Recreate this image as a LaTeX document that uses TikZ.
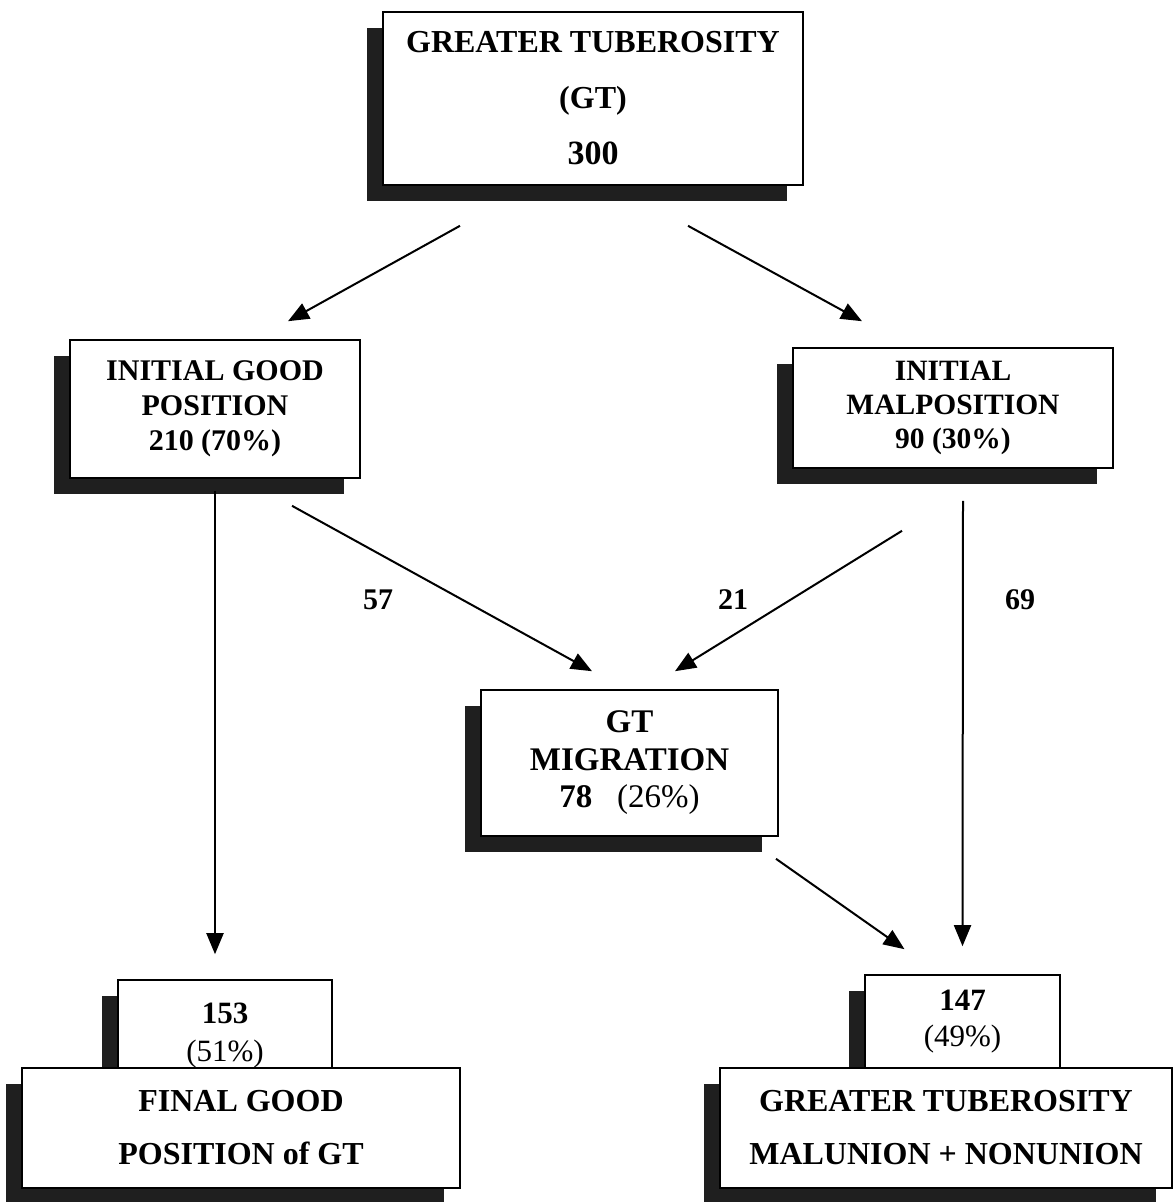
\documentclass[tikz,border=0pt]{standalone}
\usepackage{fontspec}
\setmainfont{Liberation Serif}
\usepackage{tikz}
\usetikzlibrary{shapes.geometric, arrows, arrows.meta, shadows}
\tikzstyle{arrow} = [line width=2pt,->,>={Triangle[length=21pt,width=17pt]}]
\tikzstyle{box} = [draw, line width=1.6pt, fill=white, align=center, inner sep=0pt,
  drop shadow={shadow xshift=-16pt, shadow yshift=-16pt, fill=black!88, opacity=1}]
\tikzstyle{count} = [font=\fontsize{30}{34}\selectfont\bfseries]

\begin{document}
\begin{tikzpicture}[x=1pt,y=-1pt]
		\useasboundingbox (0,0) rectangle (1173,1202);
		% Boxes:
		% Placed at the pixel positions of the figure, the shadow falls to the lower left
		\node [box, minimum width=420pt, minimum height=173pt,
		       font=\fontsize{32}{56}\selectfont\bfseries] (top) at (593,98.5)
		       {GREATER TUBEROSITY\\(GT)\\{\fontsize{34}{56}\selectfont 300}};
		\node [box, minimum width=290pt, minimum height=138pt,
		       font=\fontsize{30}{35}\selectfont\bfseries] (good) at (215,409)
		       {INITIAL GOOD\\POSITION\\210 (70\%)};
		\node [box, minimum width=320pt, minimum height=120pt,
		       font=\fontsize{29.5}{34}\selectfont\bfseries] (mal) at (953,408)
		       {INITIAL\\MALPOSITION\\90 (30\%)};
		\node [box, minimum width=297pt, minimum height=146pt,
		       font=\fontsize{33}{37.5}\selectfont\bfseries] (migr) at (629.5,763)
		       {GT\\MIGRATION\\78 \ \ {\mdseries (26\%)}};
		
		% Final results:
		% The small count box sits behind the large box, so its lower part is hidden
		\node [box, minimum width=214pt, minimum height=112pt,
		       font=\fontsize{31}{38}\selectfont\bfseries] (goodnum) at (225,1036)
		       {153\\{\mdseries (51\%)}};
		\node [box, minimum width=438pt, minimum height=120pt,
		       font=\fontsize{32}{53}\selectfont\bfseries] (goodend) at (241,1128)
		       {FINAL GOOD\\POSITION of GT};
		\node [box, minimum width=195pt, minimum height=93pt,
		       font=\fontsize{31}{36}\selectfont\bfseries] (malnum) at (962.5,1021.5)
		       {147\\{\mdseries (49\%)}};
		\node [box, minimum width=452pt, minimum height=120pt,
		       font=\fontsize{32}{53}\selectfont\bfseries] (malend) at (946,1128)
		       {GREATER TUBEROSITY\\MALUNION + NONUNION};
		
		% Arrows:
		\draw [arrow] ([xshift=-133pt,yshift=-40pt]top.south) -- ([xshift=73pt,yshift=18pt]good.north);
		\draw [arrow] ([xshift=95pt,yshift=-40pt]top.south) -- ([xshift=-91pt,yshift=26pt]mal.north);
		\draw [arrow] ([yshift=-12pt]good.south) -- ([xshift=-10pt,yshift=25pt]goodnum.north);
		\draw [arrow] ([xshift=77pt,yshift=-27pt]good.south) -- ([xshift=-37.5pt,yshift=18pt]migr.north);
		\draw [arrow] ([xshift=-51pt,yshift=-62pt]mal.south) -- ([xshift=45.5pt,yshift=18pt]migr.north);
		\draw [arrow] ([xshift=10pt,yshift=-32pt]mal.south) -- ([yshift=28pt]malnum.north);
		\draw [arrow] ([xshift=146.5pt,yshift=-22pt]migr.south) -- ([xshift=-58pt,yshift=25pt]malnum.north);
		
		% Numbers on the arrows:
		\node [count] (n57) at (378,600) {57};
		\node [count] (n21) at (733,600) {21};
		\node [count] (n69) at (1020,600) {69};
\end{tikzpicture}
\end{document}
